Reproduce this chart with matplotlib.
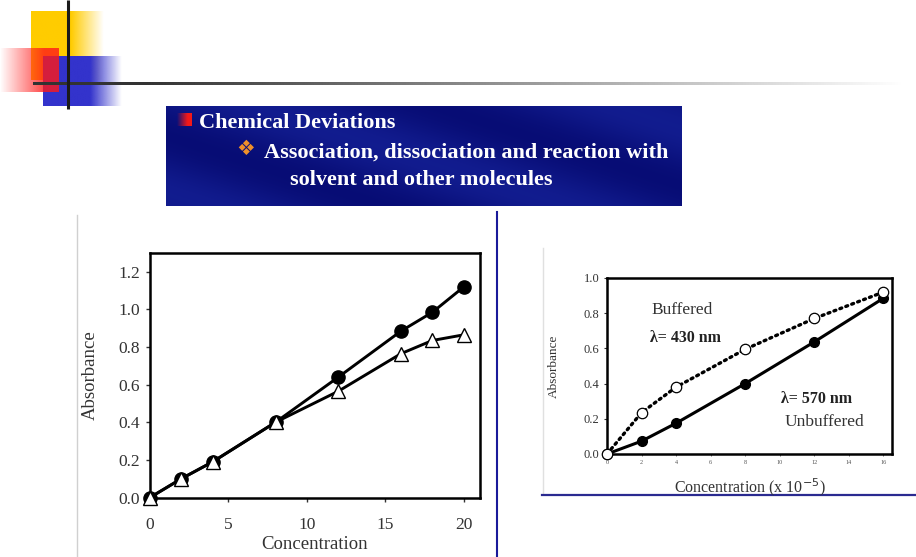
import numpy as np
import matplotlib
matplotlib.use("Agg")
import matplotlib.pyplot as plt
from matplotlib.ticker import FormatStrFormatter

# left chart: absorbance vs concentration
conc_left = [0, 2, 4, 8, 12, 16, 18, 20]
abs_circles = [0.0, 0.10, 0.19, 0.40, 0.64, 0.885, 0.985, 1.12]
abs_triangles = [0.0, 0.10, 0.19, 0.40, 0.565, 0.765, 0.835, 0.865]

# right chart: buffered / unbuffered
conc_right = [0, 2, 4, 8, 12, 16]
abs_buffered = [0.0, 0.235, 0.38, 0.595, 0.77, 0.92]
abs_unbuffered = [0.0, 0.073, 0.175, 0.40, 0.637, 0.885]

W, H = 916, 557
plt.rcParams['font.family'] = ['Liberation Serif', 'DejaVu Sans']

fig = plt.figure(figsize=(W / 100, H / 100), dpi=100)
fig.patch.set_facecolor('white')

# full-page overlay in pixel coords for the slide decoration
bg = fig.add_axes([0, 0, 1, 1], zorder=0)
bg.set_axis_off()


def grad_box(ax, x0, x1, y0, y1, rgb, solid_frac, fade_right=True, alpha=1.0, z=1):
    n = 200
    t = np.linspace(0, 1, n)
    if fade_right:
        a = np.clip((1 - t) / (1 - solid_frac), 0, 1)
    else:
        a = np.clip(t / (1 - solid_frac), 0, 1)
    img = np.zeros((2, n, 4))
    img[..., :3] = rgb
    img[..., 3] = a * alpha
    ax.imshow(img, extent=(x0, x1, y1, y0), aspect='auto',
              interpolation='bilinear', zorder=z)


grad_box(bg, 31, 104, 11, 80, (1.0, 0.8, 0.0), 0.55, fade_right=True, z=1)
grad_box(bg, 43, 122, 56, 106, (0.2, 0.2, 0.8), 0.6, fade_right=True, z=2)
grad_box(bg, 0, 59, 48, 92, (1.0, 0.1, 0.1), 0.25, fade_right=False, alpha=0.8, z=3)

# horizontal rule fading out
rule = np.zeros((2, 300, 4))
rule[..., :3] = 0.2
rule[..., 3] = np.clip(np.linspace(1.15, 0, 300), 0, 1)
bg.imshow(rule, extent=(33, 905, 85.5, 82.5), aspect='auto',
          interpolation='bilinear', zorder=4)
bg.plot([68, 68], [0, 109], color='#1a1a1a', lw=2.2, zorder=5,
        solid_capstyle='butt')

# banner
ny, nx = 60, 300
yy, xx = np.mgrid[0:ny, 0:nx]
s = (xx / nx) - 0.6 * (yy / ny)
shade = 0.5 + 0.5 * np.sin(s * 9.0)
banner = np.zeros((ny, nx, 3))
banner[..., 0] = 0.03 + 0.04 * shade
banner[..., 1] = 0.05 + 0.06 * shade
banner[..., 2] = 0.46 + 0.10 * shade
bg.imshow(banner, extent=(166, 682, 206, 106), aspect='auto',
          interpolation='bilinear', zorder=2)
grad_box(bg, 177, 192, 113, 126, (0.95, 0.1, 0.1), 0.3, fade_right=False, z=6)
bg.text(199, 128, 'Chemical Deviations', color='white', fontsize=16,
        fontweight='bold', ha='left', va='baseline', zorder=7)
bg.text(246, 149, '\u2756', color='#f0902a', fontsize=15,
        family=['DejaVu Sans'], ha='center', va='center', zorder=7)
bg.text(264, 158, 'Association, dissociation and reaction with', color='white',
        fontsize=16, fontweight='bold', ha='left', va='baseline', zorder=7)
bg.text(290, 185, 'solvent and other molecules', color='white',
        fontsize=16, fontweight='bold', ha='left', va='baseline', zorder=7)

# separators
bg.plot([497, 497], [212, 557], color='#1a1a9a', lw=1.5, zorder=2)
bg.plot([77, 77], [215, 557], color='#d0d0d0', lw=1.0, zorder=2)
bg.plot([543, 543], [248, 493], color='#e0e0e0', lw=1.0, zorder=2)
bg.plot([542, 916], [494.5, 494.5], color='#2a2a90', lw=1.6, zorder=2)

bg.set_xlim(0, W)
bg.set_ylim(H, 0)


def px_axes(l, r, t, b):
    return fig.add_axes([l / W, (H - b) / H, (r - l) / W, (b - t) / H], zorder=2)


# left chart
ax1 = px_axes(150, 479.5, 253, 497.5)
ax1.plot(conc_left, abs_circles, color='black', lw=2.1, marker='o', ms=9.5,
         mfc='black', mec='black', clip_on=False, zorder=3)
ax1.plot(conc_left, abs_triangles, color='black', lw=2.1, marker='^', ms=9.5,
         mfc='white', mec='black', mew=1.0, clip_on=False, zorder=4)
ax1.set_xlim(0, 21)
ax1.set_ylim(0, 1.3)
ax1.set_xticks([0, 5, 10, 15, 20])
ax1.set_yticks([0.0, 0.2, 0.4, 0.6, 0.8, 1.0, 1.2])
ax1.yaxis.set_major_formatter(FormatStrFormatter('%.1f'))
ax1.tick_params(labelsize=12.5, colors='#333333', length=3, width=1.0,
                direction='out', pad=4)
ax1.tick_params(axis='x', pad=11)
for sp in ax1.spines.values():
    sp.set_linewidth(1.8)
    sp.set_color('black')
ax1.set_xlabel('Concentration', fontsize=13.5, color='#333333', labelpad=2)
ax1.set_ylabel('Absorbance', fontsize=13.5, color='#333333', labelpad=14)

# right chart
ax2 = px_axes(607, 892, 278, 454)
ax2.plot(conc_right, abs_unbuffered, color='black', lw=2.2, marker='o', ms=7,
         mfc='black', mec='black', clip_on=False, zorder=3)
ax2.plot(conc_right, abs_buffered, color='black', lw=2.4, ls=(0, (0.6, 1.3)),
         dash_capstyle='round', zorder=4, clip_on=False)
ax2.plot(conc_right, abs_buffered, ls='none', marker='o', ms=7.5,
         mfc='white', mec='black', mew=0.9, clip_on=False, zorder=5)
ax2.set_xlim(0, 16.5)
ax2.set_ylim(0, 1.0)
ax2.set_xticks(list(range(0, 17, 2)))
ax2.set_yticks([0.0, 0.2, 0.4, 0.6, 0.8, 1.0])
ax2.yaxis.set_major_formatter(FormatStrFormatter('%.1f'))
ax2.tick_params(axis='y', labelsize=9, colors='#333333', length=2, width=0.8)
ax2.tick_params(axis='x', labelsize=4.5, colors='#555555', length=1.5,
                width=0.6, pad=3)
for sp in ax2.spines.values():
    sp.set_linewidth(1.8)
    sp.set_color('black')
ax2.set_xlabel('Concentration (x 10$^{-5}$)', fontsize=11.5, color='#333333',
               labelpad=8)
ax2.set_ylabel('Absorbance', fontsize=9.5, color='#333333', labelpad=17)
ax2.text(2.55, 0.82, 'Buffered', fontsize=12.5, color='#333333', ha='left',
         va='center')
ax2.text(2.5, 0.66, '\u03bb= 430 nm', fontsize=11.5, fontweight='bold',
         color='#222222', ha='left', va='center')
ax2.text(10.1, 0.31, '\u03bb= 570 nm', fontsize=11.5, fontweight='bold',
         color='#222222', ha='left', va='center')
ax2.text(10.3, 0.18, 'Unbuffered', fontsize=12.5, color='#333333', ha='left',
         va='center')

fig.savefig('out.png', dpi=100)
